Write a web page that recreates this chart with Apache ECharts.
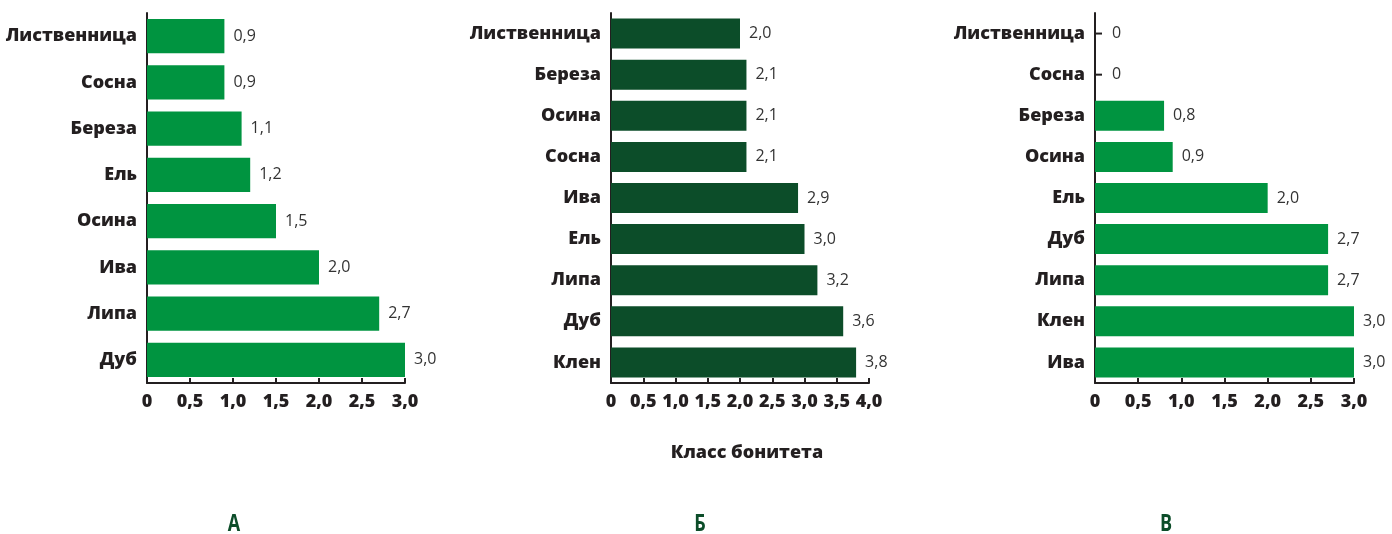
<!DOCTYPE html>
<html>
<head>
<meta charset="utf-8">
<script src="https://cdn.jsdelivr.net/npm/echarts@6/dist/echarts.min.js"></script>
<style>
  html, body { margin: 0; padding: 0; background: #fff; }
  #chart { width: 1392px; height: 534px; }
</style>
</head>
<body>
<div id="chart"></div>
<script>
// Panel А
const catsA = ['Лиственница', 'Сосна', 'Береза', 'Ель', 'Осина', 'Ива', 'Липа', 'Дуб'];
const valsA = [0.9, 0.9, 1.1, 1.2, 1.5, 2.0, 2.7, 3.0];
// Panel Б
const catsB = ['Лиственница', 'Береза', 'Осина', 'Сосна', 'Ива', 'Ель', 'Липа', 'Дуб', 'Клен'];
const valsB = [2.0, 2.1, 2.1, 2.1, 2.9, 3.0, 3.2, 3.6, 3.8];
// Panel В
const catsC = ['Лиственница', 'Сосна', 'Береза', 'Осина', 'Ель', 'Дуб', 'Липа', 'Клен', 'Ива'];
const valsC = [0, 0, 0.8, 0.9, 2.0, 2.7, 2.7, 3.0, 3.0];

const panelLetters = ['А', 'Б', 'В'];
const axisTitle = 'Класс бонитета';

const GREEN = '#009440';
const DARK = '#0c4d29';
const INK = '#231f20';
const FONT = '"Open Sans", "Noto Sans", sans-serif';

const fmtNum = v => v === 0 ? '0' : v.toFixed(1).replace('.', ',');

function xAxisFor(idx, max) {
  return {
    gridIndex: idx, type: 'value', min: 0, max: max, interval: 0.5,
    axisLine: { show: true, lineStyle: { color: INK, width: 2 } },
    axisTick: { show: true, inside: true, length: 5, lineStyle: { color: INK, width: 2 } },
    splitLine: { show: false },
    axisLabel: {
      formatter: fmtNum, color: INK, fontFamily: FONT, fontWeight: 800,
      fontSize: 18, margin: 10
    }
  };
}
function yAxisFor(idx, cats) {
  return {
    gridIndex: idx, type: 'category', data: cats, inverse: true,
    axisLine: { show: true, lineStyle: { color: INK, width: 2 } },
    axisTick: { show: false },
    axisLabel: { color: INK, fontFamily: FONT, fontWeight: 800, fontSize: 18, margin: 10 }
  };
}
// zero-valued bars get a short dash right at the axis, followed by "0"
function seriesFor(idx, vals, color, gap) {
  return {
    type: 'bar', xAxisIndex: idx, yAxisIndex: idx,
    data: vals.map(v => v === 0 ? { value: v, label: { distance: 1 } } : v),
    barCategoryGap: gap,
    itemStyle: { color: color },
    label: {
      show: true, position: 'right', distance: 9,
      color: '#333', fontFamily: FONT, fontSize: 16,
      formatter: p => p.value === 0 ? '{d|}{n|0}' : fmtNum(p.value),
      rich: {
        d: { width: 6, height: 2, backgroundColor: INK },
        n: { color: '#333', fontFamily: FONT, fontSize: 16, padding: [0, 0, 0, 10] }
      }
    }
  };
}

const chart = echarts.init(document.getElementById('chart'), null, { renderer: 'canvas' });
chart.setOption({
  animation: false,
  grid: [
    { left: 147, top: 13, width: 258, height: 370 },
    { left: 611, top: 13, width: 258, height: 370 },
    { left: 1095, top: 13, width: 259, height: 370 }
  ],
  xAxis: [xAxisFor(0, 3), xAxisFor(1, 4), xAxisFor(2, 3)],
  yAxis: [yAxisFor(0, catsA), yAxisFor(1, catsB), yAxisFor(2, catsC)],
  series: [
    seriesFor(0, valsA, GREEN, '26%'),
    seriesFor(1, valsB, DARK, '27%'),
    seriesFor(2, valsC, GREEN, '27%')
  ],
  graphic: [
    { type: 'text', x: 747, y: 453, style: { text: axisTitle, align: 'center', verticalAlign: 'middle', fill: INK, font: '800 18px ' + FONT } },
    { type: 'text', x: 234, y: 524, scaleX: 0.75, style: { text: panelLetters[0], align: 'center', verticalAlign: 'middle', fill: DARK, font: 'bold 24px ' + FONT } },
    { type: 'text', x: 700, y: 524, scaleX: 0.75, style: { text: panelLetters[1], align: 'center', verticalAlign: 'middle', fill: DARK, font: 'bold 24px ' + FONT } },
    { type: 'text', x: 1166, y: 524, scaleX: 0.75, style: { text: panelLetters[2], align: 'center', verticalAlign: 'middle', fill: DARK, font: 'bold 24px ' + FONT } }
  ]
});
</script>
</body>
</html>
